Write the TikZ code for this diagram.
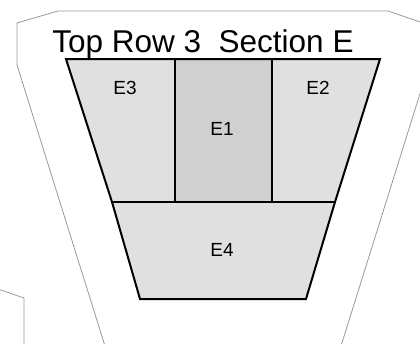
\documentclass[tikz,border=0pt]{standalone}
\usepackage{fontspec}
\setmainfont{Liberation Sans}
\definecolor{lightfill}{HTML}{E0E0E0}
\definecolor{darkfill}{HTML}{D0D0D0}
\definecolor{outline}{HTML}{999999}
\tikzset{
  plan/.style={draw=outline, line width=0.8pt, line join=miter},
  secedge/.style={draw=black, line width=2pt, line join=miter},
  secdiv/.style={draw=black, line width=1.6pt},
  seclabel/.style={font=\fontsize{19}{19}\selectfont, inner sep=0pt},
  titlelabel/.style={font=\fontsize{31.5}{31.5}\selectfont, inner sep=0pt, anchor=base}
}
\begin{document}
\begin{tikzpicture}[x=1pt,y=-1pt]
\useasboundingbox (0,0) rectangle (420,343);
% surrounding outlines
\draw[plan] (105,346) -- (17,65) -- (17,23) -- (58,11) -- (388,11) -- (426,24);
\draw[plan] (423,84) -- (341,346);
\draw[plan] (-2,289) -- (24,298) -- (24,346);
% corner coordinates
\coordinate (tl) at (66,59);
\coordinate (tm1) at (175,59);
\coordinate (tm2) at (272,59);
\coordinate (tr) at (380,59);
\coordinate (ml) at (112,202);
\coordinate (mm1) at (175,202);
\coordinate (mm2) at (272,202);
\coordinate (mr) at (335,202);
\coordinate (bl) at (140,299);
\coordinate (br) at (306,299);
% fills
\fill[lightfill] (tl) -- (tm1) -- (mm1) -- (ml) -- cycle;
\fill[darkfill] (tm1) -- (tm2) -- (mm2) -- (mm1) -- cycle;
\fill[lightfill] (tm2) -- (tr) -- (mr) -- (mm2) -- cycle;
\fill[lightfill] (ml) -- (mr) -- (br) -- (bl) -- cycle;
% dividers
\draw[secdiv] (tm1) -- (mm1);
\draw[secdiv] (tm2) -- (mm2);
\draw[secdiv] (ml) -- (mr);
% outer edge
\draw[secedge] (tl) -- (tr) -- (mr) -- (br) -- (bl) -- (ml) -- cycle;
% labels
\node[titlelabel] (title) at (203,52) {Top Row 3\ \ Section E};
\node[seclabel] (e3) at (125,88) {E3};
\node[seclabel] (e1) at (222,129) {E1};
\node[seclabel] (e2) at (318,88) {E2};
\node[seclabel] (e4) at (222,250) {E4};
\end{tikzpicture}
\end{document}
